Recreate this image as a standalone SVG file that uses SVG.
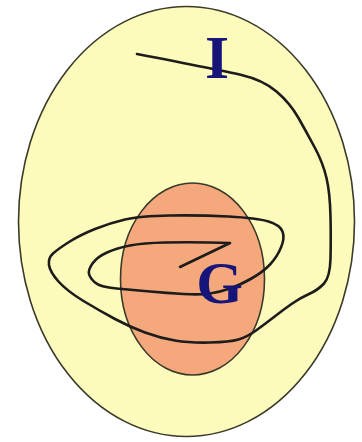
<svg xmlns="http://www.w3.org/2000/svg" width="362" height="442" viewBox="0 0 362 442">
<style>
.region{stroke:#3a3a2a;stroke-width:1.6}
.lbl{font-family:"Liberation Serif","Times New Roman",serif;font-weight:bold;fill:#15157a;text-anchor:middle}
.curve{fill:none;stroke:#1c1c1c;stroke-width:2.6;stroke-linecap:round;stroke-linejoin:round}
</style>
<rect width="362" height="442" fill="#ffffff"/>
<g id="I">
<ellipse class="region" cx="186.5" cy="221.5" rx="168" ry="215" fill="#fdfbbb"/>
</g>
<g id="G">
<ellipse class="region" cx="192.5" cy="279" rx="72" ry="96" fill="#f5a87c"/>
</g>
<g id="connectors">
<path class="curve" d="M137,54 Q220,70 241.5,75 Q263,80 276.5,91.5 Q290,103 298.5,118 Q307,133 315,148 Q323,163 326.5,178 Q330,193 330.5,216.5 Q331,240 330.5,258.5 Q330,277 324,283.5 Q318,290 309,294 Q300,298 291.5,304 Q283,310 274,317 Q265,324 256,330.5 Q247,337 238.5,339.5 Q230,342 210,342.5 Q190,343 175,340.5 Q160,338 145,332.5 Q130,327 115,319 Q100,311 83.5,301 Q67,291 58.5,281.5 Q50,272 49,265 Q48,258 53,253.5 Q58,249 69,242 Q80,235 95,229 Q110,223 125,219.5 Q140,216 170,215.5 Q200,215 228.5,216.5 Q257,218 268.5,221.5 Q280,225 282.5,231.5 Q285,238 281,247.5 Q277,257 270,264.5 Q263,272 251.5,278.5 Q240,285 230,288.5 Q220,292 210,293.5 Q200,295 183.5,294 Q167,293 150,291.5 Q133,290 116.5,288.5 Q100,287 95,282.5 Q90,278 89,274 Q88,270 92.5,263.5 Q97,257 107,252.5 Q117,248 130,245.5 Q143,243 165,242.5 Q187,242 208.5,242.5 L230,243 L180,267"/>
</g>
<text class="lbl" x="217" y="78" font-size="62">I</text>
<text class="lbl" x="219.5" y="303" font-size="60">G</text>
</svg>
